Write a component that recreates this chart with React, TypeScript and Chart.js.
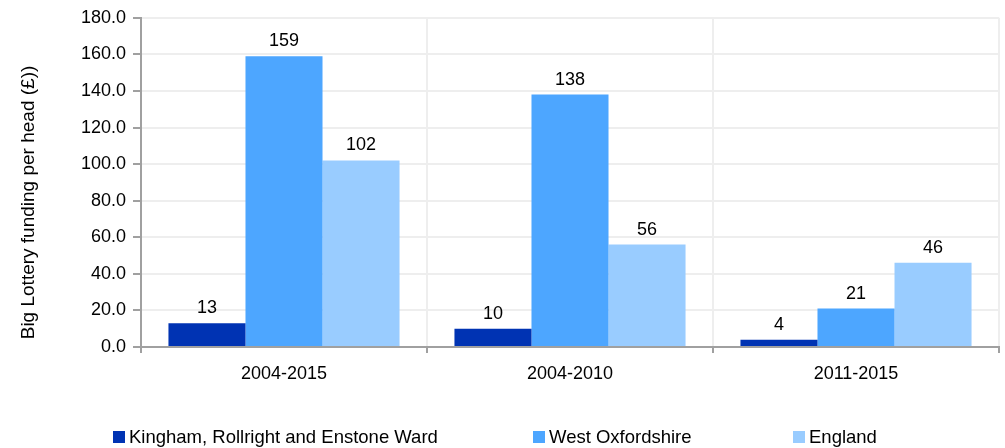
import React, { useEffect, useRef } from "react";
import { Chart, registerables } from "chart.js";

Chart.register(...registerables);

const categories = ["2004-2015", "2004-2010", "2011-2015"];
const seriesNames = ["Kingham, Rollright and Enstone Ward", "West Oxfordshire", "England"];
const wardValues = [13, 10, 4];
const westOxValues = [159, 138, 21];
const englandValues = [102, 56, 46];
const seriesColors = ["#0033B3", "#4DA6FF", "#99CCFF"];
const yTitle = "Big Lottery funding per head (£))";
const yMin = 0;
const yMax = 180;
const yStep = 20;

const FONT = "'Liberation Sans', Arial, sans-serif";
const FS = 18;

const valueLabelPlugin = {
  id: "valueLabels",
  afterDatasetsDraw(chart: any) {
    const ctx = chart.ctx;
    ctx.save();
    ctx.font = `${FS}px ${FONT}`;
    ctx.fillStyle = "#000";
    ctx.textAlign = "center";
    ctx.textBaseline = "alphabetic";
    chart.data.datasets.forEach((ds: any, i: number) => {
      const meta = chart.getDatasetMeta(i);
      meta.data.forEach((bar: any, j: number) => {
        ctx.fillText(String(ds.data[j]), bar.x, bar.y - 10);
      });
    });
    ctx.restore();
  },
};

const legendXFractions = [113 / 1005, 533 / 1005, 793 / 1005];

const customLegendPlugin = {
  id: "customLegend",
  afterDraw(chart: any) {
    const ctx = chart.ctx;
    ctx.save();
    ctx.font = `18.5px ${FONT}`;
    ctx.textBaseline = "middle";
    ctx.textAlign = "left";
    const y = chart.height - 11;
    chart.data.datasets.forEach((ds: any, i: number) => {
      const x = legendXFractions[i] * chart.width;
      ctx.fillStyle = ds.backgroundColor;
      ctx.fillRect(x, y - 6, 12, 12);
      ctx.fillStyle = "#000";
      ctx.fillText(ds.label, x + 16, y + 1);
    });
    // y-axis title
    ctx.font = `19px ${FONT}`;
    ctx.translate(29, chart.height * 0.452);
    ctx.rotate(-Math.PI / 2);
    ctx.textAlign = "center";
    ctx.fillText(yTitle, 0, 0);
    ctx.restore();
  },
};

export default function App() {
  const canvasRef = useRef<HTMLCanvasElement | null>(null);

  useEffect(() => {
    if (!canvasRef.current) return;
    const chart = new Chart(canvasRef.current, {
      type: "bar",
      data: {
        labels: categories,
        datasets: [
          { label: seriesNames[0], data: wardValues, backgroundColor: seriesColors[0] },
          { label: seriesNames[1], data: westOxValues, backgroundColor: seriesColors[1] },
          { label: seriesNames[2], data: englandValues, backgroundColor: seriesColors[2] },
        ],
      },
      options: {
        animation: false,
        responsive: false,
        maintainAspectRatio: false,
        layout: { padding: { top: 16, right: 6, bottom: 0, left: 0 } },
        datasets: { bar: { categoryPercentage: 0.808, barPercentage: 1 } },
        plugins: {
          legend: { display: false },
          tooltip: { enabled: false },
        },
        scales: {
          x: {
            afterFit: (scale: any) => {
              scale.height = 101;
            },
            grid: {
              color: "#EEEEEE",
              lineWidth: 2,
              tickColor: "#A0A0A0",
              tickLength: 6,
              offset: true,
            },
            border: { color: "#A0A0A0", width: 2 },
            ticks: {
              color: "#000",
              font: { family: FONT, size: FS },
              padding: 10,
            },
          },
          y: {
            min: yMin,
            max: yMax,
            afterFit: (scale: any) => {
              scale.width = 141;
            },
            grid: {
              color: "#EEEEEE",
              lineWidth: 2,
              tickColor: "#A0A0A0",
              tickLength: 8,
            },
            border: { color: "#A0A0A0", width: 2 },
            ticks: {
              stepSize: yStep,
              color: "#000",
              font: { family: FONT, size: FS },
              padding: 7,
              callback: (v: any) => Number(v).toFixed(1),
            },
          },
        },
      },
      plugins: [valueLabelPlugin, customLegendPlugin],
    });
    return () => chart.destroy();
  }, []);

  return (
    <div style={{ position: "absolute", left: 0, top: 0, width: 1005, height: 448, background: "#fff" }}>
      <canvas ref={canvasRef} width={1005} height={448} style={{ width: 1005, height: 448 }} />
    </div>
  );
}
